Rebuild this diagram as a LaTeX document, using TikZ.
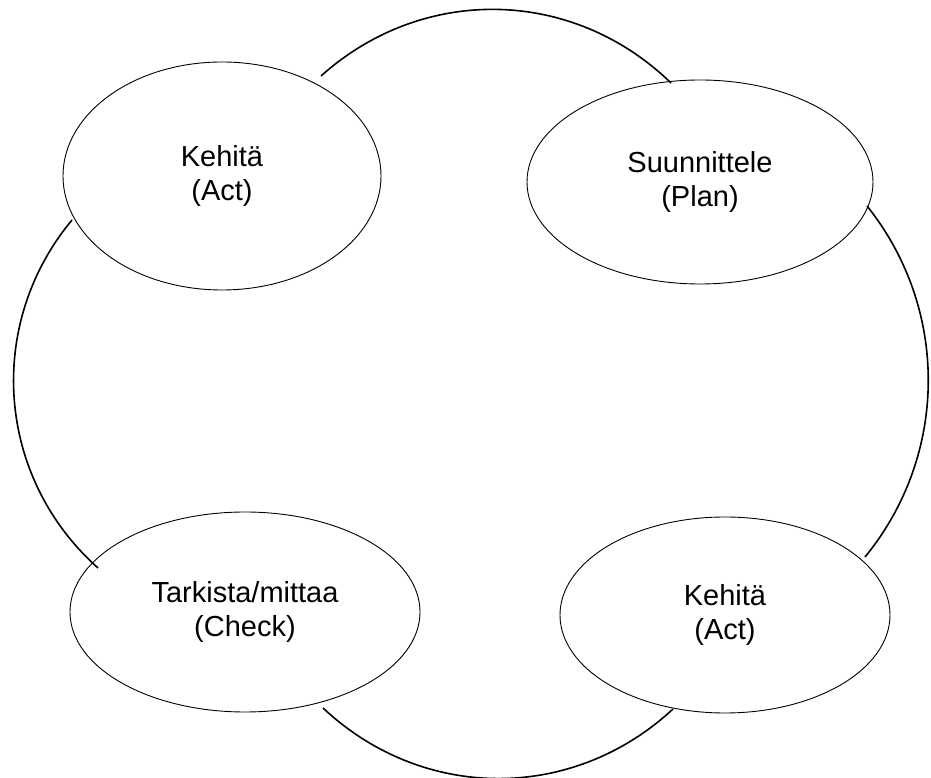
\documentclass[tikz,border=0pt]{standalone}
\usepackage{fontspec}
\setmainfont{Liberation Sans}
\usetikzlibrary{shapes.geometric}
\begin{document}
\begin{tikzpicture}[x=1pt,y=1pt,
  phase/.style={draw, ellipse, line width=0.9pt, inner sep=0pt, align=center,
    font=\fontsize{29}{34}\selectfont},
  cycle/.style={line width=1.6pt, looseness=1}]
\useasboundingbox (0,0) rectangle (931,778);
\node[phase, minimum width=318pt, minimum height=228pt] (act1) at (222,602) {Kehitä\\(Act)};
\node[phase, minimum width=346pt, minimum height=204pt] (plan) at (700,596) {Suunnittele\\(Plan)};
\node[phase, minimum width=350pt, minimum height=200pt] (check) at (245,166) {Tarkista/mittaa\\(Check)};
\node[phase, minimum width=330pt, minimum height=196pt] (act2) at (725,163) {Kehitä\\(Act)};
\coordinate (a1) at (321,702);
\coordinate (a2) at (671,695);
\coordinate (b1) at (867,572);
\coordinate (b2) at (865,221);
\coordinate (c1) at (673,69);
\coordinate (c2) at (323,70);
\coordinate (d1) at (98,210);
\coordinate (d2) at (72,558);
\draw[cycle] (a1) to[bend left=43] (a2);
\draw[cycle] (b1) to[bend left=39, looseness=0.96] (b2);
\draw[cycle] (c1) to[bend left=43] (c2);
\draw[cycle] (d1) to[bend left=44] (d2);
\end{tikzpicture}
\end{document}
